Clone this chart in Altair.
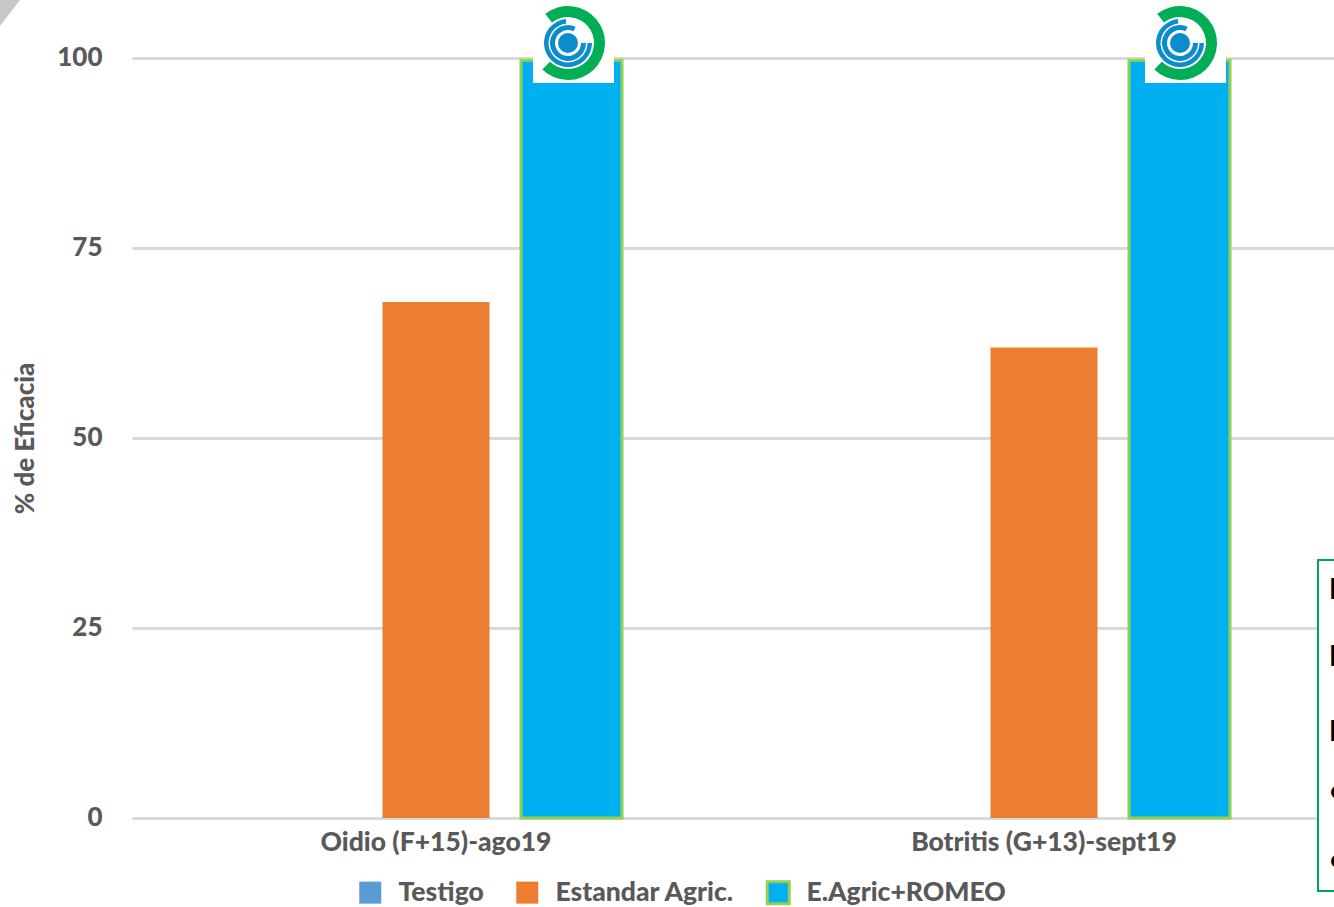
import math
import altair as alt
import pandas as pd

# Efficacy per disease and treatment
categories = ["Oidio (F+15)-ago19", "Botritis (G+13)-sept19"]
series = ["Testigo", "Estandar Agric.", "E.Agric+ROMEO"]
testigo = [0, 0]
estandar = [67.9, 61.9]
romeo = [99.7, 99.7]
fills = ["#5b9bd5", "#ed7d31", "#00b0f0"]
outlines = ["transparent", "transparent", "#92d050"]
note_lines = ["E", "E", "E", "•", "•"]

FONT = "Lato"
WEIGHT = 900
GREY = "#595959"
LEFT, TOP = 130, 58
PLOT_W, PLOT_H = 1202, 760

rows = []
for name, values in zip(series, [testigo, estandar, romeo]):
    for cat, val in zip(categories, values):
        rows.append({"category": cat, "series": name, "value": val})
df = pd.DataFrame(rows)

x = alt.X(
    "category:N",
    sort=categories,
    title=None,
    scale=alt.Scale(domain=categories, range=[2, 1218], paddingInner=0, paddingOuter=0),
    axis=alt.Axis(domain=False, ticks=False, labelAngle=0, labelFont=FONT, labelFontSize=26.5,
                  labelFontWeight=WEIGHT, labelColor=GREY, labelPadding=11, grid=False,
                  labelLimit=500),
)
x_offset = alt.XOffset(
    "series:N", sort=series,
    scale=alt.Scale(domain=series, paddingInner=0.213, paddingOuter=0.85),
)
y = alt.Y(
    "value:Q",
    title="% de Eficacia",
    scale=alt.Scale(domain=[0, 100], nice=False),
    axis=alt.Axis(values=[0, 25, 50, 75, 100], domain=False, ticks=False, grid=True,
                  gridColor="#d9d9d9", gridWidth=3, labelFont=FONT, labelFontSize=26,
                  labelFontWeight=WEIGHT, labelColor=GREY, labelPadding=28, labelOffset=-1,
                  titleFont=FONT, titleFontSize=26, titleFontWeight=WEIGHT, titleColor=GREY,
                  titlePadding=18),
)
color = alt.Color(
    "series:N", sort=series, title=None,
    scale=alt.Scale(domain=series, range=fills),
    legend=alt.Legend(orient="none", legendX=227, legendY=821, direction="horizontal", columns=3,
                      symbolType="square", symbolSize=484, symbolStrokeWidth=3,
                      columnPadding=26, labelOffset=15, labelFont=FONT, labelFontSize=26.5,
                      labelFontWeight=WEIGHT, labelColor=GREY, labelLimit=400, padding=0),
)
stroke = alt.Stroke(
    "series:N", sort=series, title=None,
    scale=alt.Scale(domain=series, range=outlines),
)
encoding = dict(x=x, xOffset=x_offset, y=y, color=color, stroke=stroke)

plain_bars = (
    alt.Chart(df[df["series"] != "E.Agric+ROMEO"])
    .mark_bar(width=107, strokeWidth=0)
    .encode(**encoding)
)
outlined_bars = (
    alt.Chart(df[df["series"] == "E.Agric+ROMEO"])
    .mark_bar(width=101, strokeWidth=3)
    .encode(**encoding)
)

one_row = alt.Data(values=[{"n": 1}])


def px(v):
    return alt.value(v - LEFT)


def py(v):
    return alt.value(v - TOP)


def ring(cx, cy, inner, outer, start, end, col):
    return (
        alt.Chart(one_row)
        .mark_arc(innerRadius=inner, outerRadius=outer, theta=math.radians(start),
                  theta2=math.radians(end), color=col)
        .encode(x=px(cx), y=py(cy))
    )


def logo(cx, cy):
    backing = (
        alt.Chart(one_row)
        .mark_rect(color="white")
        .encode(x=px(cx - 35), x2=px(cx + 46), y=py(0), y2=py(83))
    )
    blue = "#0b8ccd"
    return [
        backing,
        ring(cx, cy, 26, 37, 322, 584, "#00ae55"),
        ring(cx, cy, 19.5, 24, 90, 355, blue),
        ring(cx, cy, 13, 18, 90, 385, blue),
        ring(cx, cy, 0, 10, 0, 360, blue),
    ]


note_box = (
    alt.Chart(one_row)
    .mark_rect(fill="white", stroke="#00a651", strokeWidth=2)
    .encode(x=px(1318), x2=px(1400), y=py(560), y2=py(891))
)
note_text = [
    alt.Chart(alt.Data(values=[{"t": t}]))
    .mark_text(font=FONT, fontSize=28, fontWeight="bold", color="black", align="left", baseline="middle")
    .encode(x=px(1329), y=py(v), text="t:N")
    for t, v in zip(note_lines, [591, 658, 733, 793, 862])
]

corner = (
    alt.Chart(one_row)
    .mark_point(shape="M0,0L1,0L0,1.3Z", filled=True, opacity=1, size=1600, color="#c8c8c8")
    .encode(x=px(0), y=py(0))
)

chart = (
    alt.layer(plain_bars, outlined_bars, *logo(568, 43), *logo(1180, 43),
              note_box, *note_text, corner)
    .resolve_scale(x="shared", y="shared", color="shared", stroke="shared")
    .properties(
        width=PLOT_W,
        height=PLOT_H,
        padding={"left": LEFT, "top": TOP, "right": 2, "bottom": 89},
        autosize=alt.AutoSizeParams(type="none"),
        background="white",
    )
    .configure_view(stroke=None)
)

chart.save("out.html", embed_options={"renderer": "svg", "actions": False})
